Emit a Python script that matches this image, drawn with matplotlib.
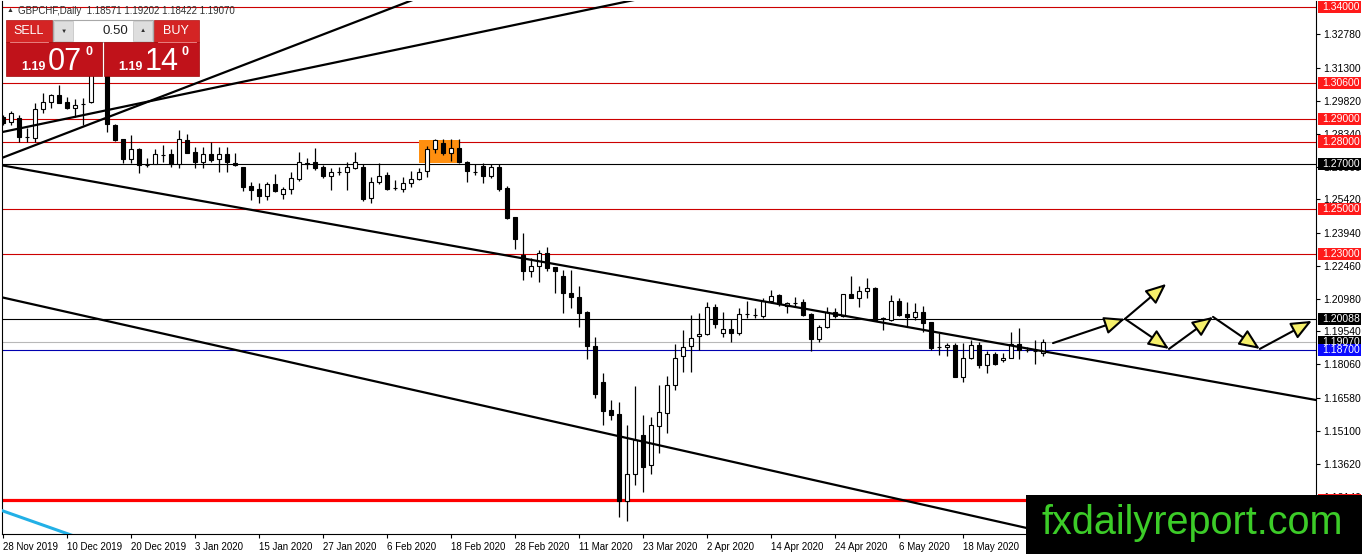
import matplotlib
matplotlib.use('Agg')
import matplotlib.pyplot as plt
from matplotlib.patches import Rectangle
import numpy as np

plt.rcParams['font.family'] = ['Liberation Sans', 'DejaVu Sans']

# daily GBPCHF candles, 28 Nov 2019 .. end of May 2020
opens = [1.2909, 1.2887, 1.2905, 1.2820, 1.2816, 1.2945, 1.2976, 1.3008, 1.2976, 1.2950,
         1.2967, 1.2976, 1.3110, 1.3140, 1.2874, 1.2811, 1.2722, 1.2767, 1.2697, 1.2700,
         1.2740, 1.2744, 1.2700, 1.2807, 1.2753, 1.2709, 1.2744, 1.2722, 1.2744, 1.2704,
         1.2686, 1.2602, 1.2588, 1.2557, 1.2611, 1.2566, 1.2588, 1.2633, 1.2702, 1.2709,
         1.2686, 1.2647, 1.2664, 1.2664, 1.2682, 1.2686, 1.2548, 1.2620, 1.2651, 1.2591,
         1.2588, 1.2615, 1.2633, 1.2669, 1.2767, 1.2793, 1.2749, 1.2771, 1.2709, 1.2666,
         1.2691, 1.2647, 1.2686, 1.2593, 1.2463, 1.2294, 1.2222, 1.2245, 1.2303, 1.2240,
         1.2200, 1.2124, 1.2107, 1.2040, 1.1888, 1.1726, 1.1603, 1.1585, 1.1197, 1.1317,
         1.1491, 1.1357, 1.1531, 1.1589, 1.1714, 1.1843, 1.1888, 1.1933, 1.1941, 1.2062,
         1.1946, 1.1964, 1.1946, 1.2029, 1.2028, 1.2022, 1.2089, 1.2116, 1.2066, 1.2080,
         1.2084, 1.2031, 1.1919, 1.1973, 1.2040, 1.2022, 1.2120, 1.2102, 1.2133, 1.2147,
         1.2011, 1.2004, 1.2089, 1.2031, 1.2018, 1.2040, 1.1995, 1.1885, 1.1883, 1.1892,
         1.1750, 1.1835, 1.1892, 1.1803, 1.1852, 1.1826, 1.1835, 1.1897, 1.1871, 1.1867,
         1.18571]
highs = [1.2918, 1.2936, 1.2918, 1.2860, 1.2972, 1.3016, 1.3010, 1.3052, 1.2999, 1.2990,
         1.2994, 1.3141, 1.3190, 1.3160, 1.2876, 1.2813, 1.2829, 1.2769, 1.2727, 1.2767,
         1.2785, 1.2767, 1.2851, 1.2834, 1.2776, 1.2776, 1.2798, 1.2776, 1.2776, 1.2749,
         1.2688, 1.2620, 1.2615, 1.2620, 1.2655, 1.2597, 1.2664, 1.2753, 1.2727, 1.2771,
         1.2695, 1.2682, 1.2686, 1.2709, 1.2753, 1.2700, 1.2642, 1.2704, 1.2664, 1.2629,
         1.2642, 1.2669, 1.2682, 1.2780, 1.2811, 1.2811, 1.2811, 1.2811, 1.2711, 1.2700,
         1.2704, 1.2700, 1.2700, 1.2602, 1.2465, 1.2392, 1.2281, 1.2316, 1.2330, 1.2242,
         1.2227, 1.2227, 1.2156, 1.2042, 1.1928, 1.1768, 1.1647, 1.1638, 1.1536, 1.1710,
         1.1580, 1.1571, 1.1714, 1.1754, 1.1897, 1.1959, 1.2026, 1.2035, 1.2084, 1.2075,
         1.2040, 1.2009, 1.2058, 1.2089, 1.2058, 1.2102, 1.2138, 1.2120, 1.2084, 1.2107,
         1.2098, 1.2033, 1.1982, 1.2062, 1.2058, 1.2122, 1.2200, 1.2156, 1.2191, 1.2151,
         1.2018, 1.2116, 1.2102, 1.2084, 1.2080, 1.2066, 1.1997, 1.1946, 1.1901, 1.1901,
         1.1901, 1.1915, 1.1906, 1.1866, 1.1861, 1.1857, 1.1950, 1.1968, 1.1883, 1.1915,
         1.19202]
lows = [1.2874, 1.2874, 1.2798, 1.2798, 1.2798, 1.2927, 1.2950, 1.2970, 1.2945, 1.2909,
        1.2874, 1.2970, 1.3100, 1.2843, 1.2802, 1.2704, 1.2704, 1.2660, 1.2686, 1.2698,
        1.2709, 1.2686, 1.2682, 1.2747, 1.2682, 1.2682, 1.2709, 1.2664, 1.2664, 1.2691,
        1.2579, 1.2539, 1.2526, 1.2539, 1.2575, 1.2544, 1.2566, 1.2624, 1.2677, 1.2673,
        1.2638, 1.2584, 1.2651, 1.2584, 1.2677, 1.2535, 1.2526, 1.2611, 1.2586, 1.2584,
        1.2575, 1.2597, 1.2629, 1.2642, 1.2749, 1.2740, 1.2713, 1.2704, 1.2620, 1.2651,
        1.2615, 1.2638, 1.2579, 1.2454, 1.2321, 1.2182, 1.2196, 1.2173, 1.2222, 1.2124,
        1.2035, 1.2058, 1.1973, 1.1830, 1.1656, 1.1536, 1.1558, 1.1125, 1.1108, 1.1268,
        1.1237, 1.1317, 1.1411, 1.1500, 1.1692, 1.1772, 1.1772, 1.1870, 1.1939, 1.1968,
        1.1928, 1.1906, 1.1937, 1.2013, 1.2013, 1.2013, 1.2080, 1.2066, 1.2035, 1.2066,
        1.2022, 1.1866, 1.1906, 1.1968, 1.2013, 1.2018, 1.2100, 1.2062, 1.2102, 1.2000,
        1.1959, 1.2000, 1.2022, 1.1977, 1.2004, 1.1950, 1.1870, 1.1848, 1.1843, 1.1748,
        1.1727, 1.1830, 1.1790, 1.1768, 1.1803, 1.1817, 1.1833, 1.1830, 1.1861, 1.1808,
        1.18422]
closes = [1.2883, 1.2927, 1.2820, 1.2822, 1.2945, 1.2976, 1.3008, 1.2972, 1.2950, 1.2963,
          1.2969, 1.3110, 1.3150, 1.2878, 1.2807, 1.2722, 1.2767, 1.2695, 1.2695, 1.2744,
          1.2742, 1.2700, 1.2811, 1.2749, 1.2709, 1.2744, 1.2718, 1.2744, 1.2709, 1.2695,
          1.2597, 1.2584, 1.2557, 1.2611, 1.2579, 1.2588, 1.2638, 1.2709, 1.2700, 1.2682,
          1.2647, 1.2664, 1.2666, 1.2686, 1.2709, 1.2544, 1.2620, 1.2647, 1.2588, 1.2593,
          1.2615, 1.2633, 1.2664, 1.2767, 1.2807, 1.2749, 1.2771, 1.2709, 1.2669, 1.2664,
          1.2647, 1.2686, 1.2588, 1.2459, 1.2365, 1.2222, 1.2245, 1.2303, 1.2236, 1.2222,
          1.2124, 1.2107, 1.2035, 1.1888, 1.1674, 1.1598, 1.1580, 1.1197, 1.1317, 1.1469,
          1.1348, 1.1536, 1.1594, 1.1714, 1.1835, 1.1883, 1.1924, 1.1941, 1.2062, 1.1986,
          1.1964, 1.1946, 1.2031, 1.2031, 1.2026, 1.2089, 1.2111, 1.2075, 1.2080, 1.2078,
          1.2026, 1.1919, 1.1973, 1.2040, 1.2022, 1.2120, 1.2102, 1.2133, 1.2147, 1.2004,
          1.2009, 1.2089, 1.2026, 1.2018, 1.2040, 1.1991, 1.1879, 1.1883, 1.1892, 1.1750,
          1.1835, 1.1892, 1.1803, 1.1852, 1.1808, 1.1835, 1.1897, 1.1870, 1.1869, 1.1865,
          1.19070]

date_labels = ['28 Nov 2019', '10 Dec 2019', '20 Dec 2019', '3 Jan 2020', '15 Jan 2020',
               '27 Jan 2020', '6 Feb 2020', '18 Feb 2020', '28 Feb 2020', '11 Mar 2020',
               '23 Mar 2020', '2 Apr 2020', '14 Apr 2020', '24 Apr 2020', '6 May 2020',
               '18 May 2020']
price_ticks = [1.32780, 1.31300, 1.29820, 1.28340, 1.26860, 1.25420, 1.23940, 1.22460,
               1.20980, 1.19540, 1.18060, 1.16580, 1.15100, 1.13620, 1.12140]

# horizontal levels
levels = [1.34000, 1.30600, 1.29000, 1.28000, 1.27000, 1.25000, 1.23000,
          1.20088, 1.19070, 1.18700, 1.12000]
level_kind = ['r', 'r', 'r', 'r', 'k', 'r', 'r', 'k', 'bid', 'b', 'r2']

# trend lines as (bar, price) pairs
trend_lines = [((0, 1.2693), (164, 1.1648)),
               ((0, 1.2104), (130, 1.1060)),
               ((-0.125, 1.2727), (50.25, 1.3418)),
               ((-0.125, 1.2842), (77.125, 1.3418))]
cyan_line = ((-0.375, 1.1157), (8.125, 1.1050))
box_bars = (51.95, 57.1)
box_prices = (1.2705, 1.2807)

# projected path (bar, price)
path_pts = {'a': (131.25, 1.1901), 'b': (140.25, 1.2009), 'up': (145.4, 1.2165),
            'c': (145.75, 1.1875), 'd': (151.25, 1.2018), 'e': (157.1, 1.1875),
            'f': (163.6, 1.2000)}
path_arrows = [('a', 'b'), ('b', 'up'), ('b', 'c'), ('c', 'd'), ('d', 'e'), ('e', 'f')]

W, H = 1362, 554
fig = plt.figure(figsize=(W / 100, H / 100), dpi=100)
ax = fig.add_axes([2 / W, 20 / H, 1314 / W, 533 / H])
ax.set_xlim(-0.125, 164.125)
ax.set_ylim(1.10496, 1.34267)

# levels
line_col = {'r': '#cc0000', 'k': 'black', 'bid': '#b8b8b8', 'b': '#0000b0', 'r2': '#ff0000'}
lab_col = {'r': '#ff1a1a', 'k': 'black', 'bid': 'black', 'b': '#0a0aff', 'r2': '#ff1a1a'}
for lv, kd in zip(levels, level_kind):
    ax.axhline(lv, color=line_col[kd], lw=2.3 if kd == 'r2' else 0.8, zorder=1.5)

# orange zone
ax.add_patch(Rectangle((box_bars[0], box_prices[0]), box_bars[1] - box_bars[0],
                       box_prices[1] - box_prices[0], fc='#ff8f0f', ec='none', zorder=2))

# candles
x = np.arange(len(opens))
o = np.array(opens); c = np.array(closes)
ax.vlines(x, lows, highs, color='black', lw=0.9, zorder=3)
bull = c >= o
body = np.maximum(np.abs(c - o), 0.00012)
ax.bar(x, body, bottom=np.minimum(o, c), width=0.62,
       color=np.where(bull, 'white', 'black'), edgecolor='black', linewidth=0.8, zorder=4)

# trend lines
xs = np.array([-2, 170])
for (x0, y0), (x1, y1) in trend_lines:
    k = (y1 - y0) / (x1 - x0)
    ax.plot(xs, y0 + k * (xs - x0), color='black', lw=1.6, zorder=5)
(x0, y0), (x1, y1) = cyan_line
k = (y1 - y0) / (x1 - x0)
ax.plot(xs, y0 + k * (xs - x0), color='#22b0e6', lw=2.2, zorder=5)

# yellow arrows
for s, e in path_arrows:
    ax.annotate('', xy=path_pts[e], xytext=path_pts[s],
                arrowprops=dict(arrowstyle='-|>,head_length=0.42,head_width=0.18',
                                mutation_scale=30, fc='#f6f06a', ec='black', lw=1.5,
                                shrinkA=0, shrinkB=0), zorder=6)

# axes
ax.spines['top'].set_visible(False)
for sp in ['left', 'right', 'bottom']:
    ax.spines[sp].set_linewidth(0.8)
ax.yaxis.tick_right()
ax.set_yticks(price_ticks)
ax.set_yticklabels(['%.5f' % t for t in price_ticks])
ax.tick_params(axis='y', length=3, width=0.8, pad=2, labelsize=7.5)
ax.set_xticks(range(0, 8 * len(date_labels), 8))
ax.set_xticklabels(date_labels, ha='left')
ax.tick_params(axis='x', length=3, width=0.8, pad=3, labelsize=7)

# price labels on the right
ytr = ax.get_yaxis_transform()
hgt = 0.0054
for lv, kd in zip(levels, level_kind):
    ax.add_patch(Rectangle((1.0015, lv - hgt / 2), 0.0327, hgt, transform=ytr,
                           fc=lab_col[kd], ec='none', clip_on=False, zorder=20))
    ax.text(1.0046, lv, '%.5f' % lv, transform=ytr, color='white', fontsize=7.5,
            ha='left', va='center', clip_on=False, zorder=21)

# overlay: header, trade panel, logo
ov = fig.add_axes([0, 0, 1, 1], zorder=10)
ov.set_xlim(0, W)
ov.set_ylim(H, 0)
ov.axis('off')

ov.text(7, 11, '▲', fontsize=5, color='#303030', va='center')
ov.text(18, 11, 'GBPCHF,Daily  1.18571 1.19202 1.18422 1.19070', fontsize=7,
        color='#303030', va='center')

red_top = '#d42424'
red_low = '#c0121a'
ov.add_patch(Rectangle((6, 20), 46, 22, fc=red_top, ec='#b01010', lw=0.5))
ov.add_patch(Rectangle((154, 20), 45, 22, fc=red_top, ec='#b01010', lw=0.5))
ov.add_patch(Rectangle((53, 20), 100, 22, fc='white', ec='#a8a8a8', lw=0.8))
ov.add_patch(Rectangle((54, 21), 19, 20, fc='#dedede', ec='#c0c0c0', lw=0.5))
ov.add_patch(Rectangle((133, 21), 19, 20, fc='#dedede', ec='#c0c0c0', lw=0.5))
ov.text(63.5, 31, '▼', fontsize=4.5, ha='center', va='center', color='#303030')
ov.text(142.5, 31, '▲', fontsize=4.5, ha='center', va='center', color='#303030')
ov.text(128, 31, '0.50', fontsize=9.5, ha='right', va='center', color='#202020')
ov.text(29, 31, 'SELL', fontsize=9, ha='center', va='center', color='white')
ov.text(176, 31, 'BUY', fontsize=9, ha='center', va='center', color='white')
ov.plot([10, 48], [41.5, 41.5], color='#f29090', lw=0.6)
ov.plot([158, 196], [41.5, 41.5], color='#f29090', lw=0.6)
ov.add_patch(Rectangle((6, 42), 96, 34, fc=red_low, ec='#a00808', lw=0.5))
ov.add_patch(Rectangle((104, 42), 95, 34, fc=red_low, ec='#a00808', lw=0.5))
for x0, big in [(21, '07'), (118, '14')]:
    ov.text(x0, 70, '1.19', fontsize=9, fontweight='bold', color='white', va='baseline')
    ov.text(x0 + 27, 70, big, fontsize=22, color='white', va='baseline')
    ov.text(x0 + 64, 46, '0', fontsize=9, fontweight='bold', color='white', va='top')

ov.add_patch(Rectangle((1026, 495), 336, 59, fc='black', ec='none'))
ov.text(1042, 534, 'fxdailyreport.com', fontsize=28.5, color='#3ccc28', va='baseline')

fig.savefig('out.png', dpi=100)
